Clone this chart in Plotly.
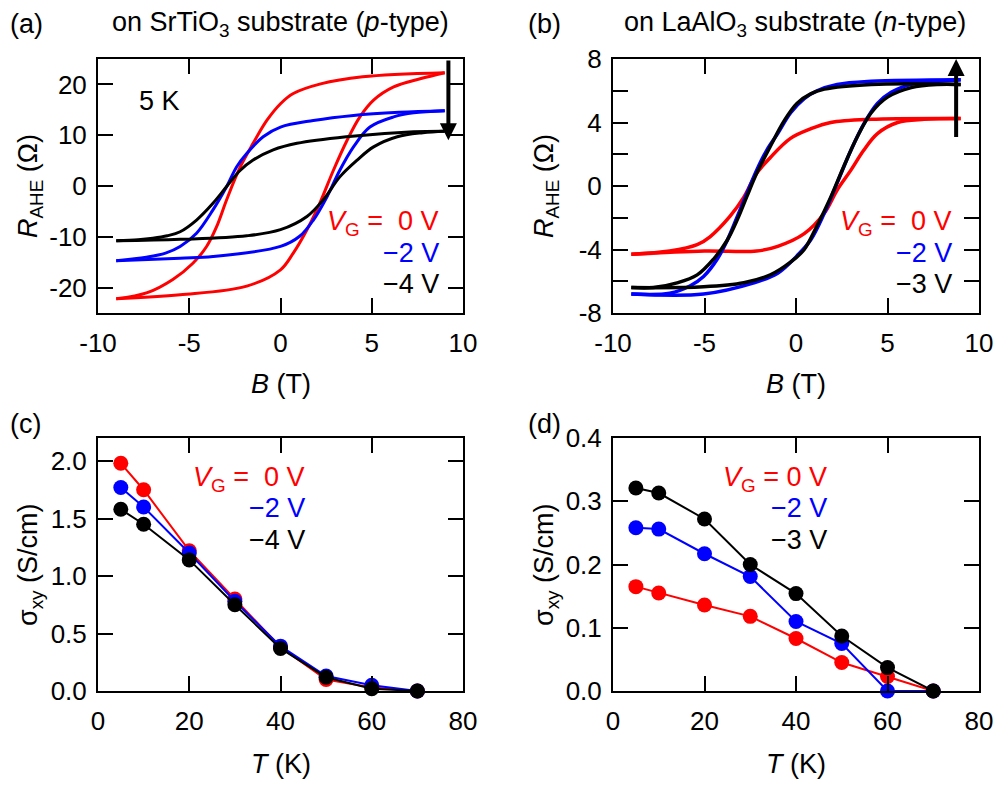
import plotly.graph_objects as go

W, H = 998, 788

# ---------------- data ----------------
# (a) SrTiO3, 5 K : R_AHE (Ohm) vs B (T)
a_red_up_B = [-9, -7.3, -5.9, -4.8, -4.05, -3.5, -2.95, -2.2, -1.5, -0.75, 0.0, 0.7, 2.2, 4.5, 9]
a_red_up_R = [-22.2, -21.0, -18.4, -15.2, -11.9, -8.0, -2.7, 3.8, 8.4, 12.9, 16.2, 18.2, 20.1, 21.5, 22.3]
a_red_dn_B = [-9, -5.5, -1.85, 0.0, 0.7, 1.45, 2.15, 2.9, 3.65, 4.35, 5.1, 6.2, 7.65, 9]
a_red_dn_R = [-22.2, -21.4, -19.7, -16.5, -13.2, -8.6, -3.4, 3.1, 9.0, 13.6, 16.9, 19.5, 21.1, 22.3]

a_blue_up_B = [-9, -7.35, -6.3, -5.5, -4.6, -3.7, -2.95, -2.4, -1.85, -0.95, 0.0, 1.8, 4.0, 6.5, 9]
a_blue_up_R = [-14.7, -14.0, -13.2, -11.9, -9.3, -4.7, -0.1, 3.8, 6.4, 9.7, 11.6, 12.9, 13.9, 14.5, 14.8]
a_blue_dn_B = [-9, -5.5, -3.7, 0.0, 1.05, 1.8, 2.55, 3.25, 4.0, 4.9, 6.2, 7.3, 9]
a_blue_dn_R = [-14.7, -14.2, -13.9, -11.9, -9.9, -6.7, -2.1, 3.1, 7.7, 11.6, 13.6, 14.4, 14.8]

a_blk_up_B = [-9, -7.8, -7.0, -6.2, -5.5, -4.6, -3.7, -2.95, -2.2, -1.5, -0.4, 0.9, 3.6, 7.3, 9]
a_blk_up_R = [-10.8, -10.6, -10.3, -9.8, -9.0, -6.7, -3.4, -0.1, 3.1, 5.1, 7.1, 8.4, 9.7, 10.7, 10.8]
a_blk_dn_B = [-9, -5.5, -1.85, 0.0, 1.45, 2.35, 3.25, 4.2, 5.1, 6.4, 7.8, 9]
a_blk_dn_R = [-10.8, -10.5, -9.8, -8.6, -6.0, -2.7, 1.8, 5.1, 7.7, 9.7, 10.5, 10.8]

# (b) LaAlO3 : R_AHE (Ohm) vs B (T)
b_red_up_B = [-9.0, -6.9, -5.4, -4.7, -3.6, -2.85, -2.15, -1.4, -0.3, 0.8, 1.9, 4.1, 9.0]
b_red_up_R = [-4.3, -4.1, -3.7, -3.2, -1.9, -0.7, 0.8, 1.8, 3.0, 3.6, 4.0, 4.2, 4.25]
b_red_dn_B = [-9.0, -5.0, -2.15, -1.0, 0.45, 1.55, 2.25, 3.0, 3.7, 4.45, 5.55, 7.0, 9.0]
b_red_dn_R = [-4.3, -4.1, -4.1, -3.8, -3.0, -1.7, -0.25, 1.0, 2.25, 3.3, 4.0, 4.2, 4.25]

b_blue_up_B = [-9.0, -6.9, -5.8, -5.05, -4.3, -3.75, -3.2, -2.7, -2.15, -1.6, -1.0, -0.3, 0.45, 1.15, 2.25, 4.1, 9.0]
b_blue_up_R = [-6.8, -6.75, -6.3, -5.7, -4.6, -3.4, -1.9, -0.5, 1.0, 2.25, 3.3, 4.6, 5.5, 6.0, 6.4, 6.6, 6.7]
b_blue_dn_B = [-9.0, -5.05, -2.3, -1.0, 0.05, 0.8, 1.55, 2.25, 3.0, 3.7, 4.45, 5.2, 6.3, 7.75, 9.0]
b_blue_dn_R = [-6.8, -6.8, -6.1, -5.5, -4.4, -3.4, -1.7, 0.2, 2.25, 3.9, 5.2, 5.9, 6.4, 6.6, 6.7]

b_blk_up_B = [-9.0, -7.8, -6.5, -5.4, -4.5, -3.75, -3.2, -2.7, -2.15, -1.4, -0.65, 0.05, 0.8, 1.55, 4.1, 9.0]
b_blk_up_R = [-6.4, -6.4, -6.1, -5.6, -4.6, -3.4, -2.1, -0.7, 0.8, 2.5, 4.1, 5.2, 5.8, 6.1, 6.4, 6.4]
b_blk_dn_B = [-9.0, -5.05, -2.85, -1.4, -0.3, 0.45, 1.15, 1.9, 2.6, 3.35, 4.1, 5.0, 6.3, 7.75, 9.0]
b_blk_dn_R = [-6.4, -6.35, -6.1, -5.6, -4.8, -4.0, -2.5, -0.7, 1.2, 3.1, 4.6, 5.6, 6.2, 6.4, 6.4]

# (c), (d) : sigma_xy (S/cm) vs T (K)
T_vals = [5, 10, 20, 30, 40, 50, 60, 70]
c_red = [1.98, 1.75, 1.22, 0.80, 0.38, 0.10, 0.03, 0.0]
c_blue = [1.77, 1.60, 1.20, 0.78, 0.39, 0.13, 0.05, 0.0]
c_blk = [1.58, 1.45, 1.14, 0.75, 0.37, 0.12, 0.02, 0.0]

d_red = [0.165, 0.155, 0.136, 0.118, 0.083, 0.045, 0.023, 0.0]
d_blue = [0.258, 0.256, 0.217, 0.181, 0.110, 0.075, 0.0, 0.0]
d_blk = [0.321, 0.313, 0.272, 0.200, 0.154, 0.087, 0.037, 0.0]

# tick labels
a_x_ticks = [-10, -5, 0, 5, 10]
a_x_text = ["-10", "-5", "0", "5", "10"]
a_y_ticks = [-20, -10, 0, 10, 20]
a_y_text = ["-20", "-10", "0", "10", "20"]
b_y_ticks = [-8, -6, -4, -2, 0, 2, 4, 6, 8]
b_y_text = ["-8", "", "-4", "", "0", "", "4", "", "8"]
c_x_ticks = [0, 20, 40, 60, 80]
c_y_ticks = [0.0, 0.5, 1.0, 1.5, 2.0]
d_y_ticks = [0.0, 0.1, 0.2, 0.3, 0.4]

RED, BLUE, BLACK = "#ff0000", "#0000ff", "#000000"
FONT = "Liberation Sans, Arial, sans-serif"
FS_TICK = 26
FS = 27


def px(x):
    return x / W


def py(y):
    return 1 - y / H


fig = go.Figure()

loops_a = [
    (a_red_up_B, a_red_up_R, RED), (a_red_dn_B, a_red_dn_R, RED),
    (a_blue_up_B, a_blue_up_R, BLUE), (a_blue_dn_B, a_blue_dn_R, BLUE),
    (a_blk_up_B, a_blk_up_R, BLACK), (a_blk_dn_B, a_blk_dn_R, BLACK),
]
for xs, ys, col in loops_a:
    fig.add_trace(go.Scatter(x=xs, y=ys, mode="lines", line=dict(color=col, width=3, shape="spline", smoothing=1.0),
                             xaxis="x", yaxis="y", showlegend=False))

loops_b = [
    (b_red_up_B, b_red_up_R, RED), (b_red_dn_B, b_red_dn_R, RED),
    (b_blue_up_B, b_blue_up_R, BLUE), (b_blue_dn_B, b_blue_dn_R, BLUE),
    (b_blk_up_B, b_blk_up_R, BLACK), (b_blk_dn_B, b_blk_dn_R, BLACK),
]
for xs, ys, col in loops_b:
    fig.add_trace(go.Scatter(x=xs, y=ys, mode="lines", line=dict(color=col, width=3.5, shape="spline", smoothing=1.0),
                             xaxis="x2", yaxis="y2", showlegend=False))

for ys, col in [(c_red, RED), (c_blue, BLUE), (c_blk, BLACK)]:
    fig.add_trace(go.Scatter(x=T_vals, y=ys, mode="lines+markers", line=dict(color=col, width=2),
                             marker=dict(color=col, size=15), xaxis="x3", yaxis="y3", showlegend=False,
                             cliponaxis=False))
for ys, col in [(d_red, RED), (d_blue, BLUE), (d_blk, BLACK)]:
    fig.add_trace(go.Scatter(x=T_vals, y=ys, mode="lines+markers", line=dict(color=col, width=2),
                             marker=dict(color=col, size=15), xaxis="x4", yaxis="y4", showlegend=False,
                             cliponaxis=False))

ax_common = dict(showline=True, linecolor="black", linewidth=2, mirror="ticks", ticks="inside",
                 ticklen=15, tickwidth=2, tickcolor="black", showgrid=False, zeroline=False,
                 automargin=False, tickfont=dict(family=FONT, size=FS_TICK, color="black"))
x_common = dict(ticklabelstandoff=6, **ax_common)
y_common = dict(ticklabelstandoff=4, **ax_common)

xd_left = [px(98), px(463)]
xd_right = [px(613), px(979)]
yd_top = [py(313), py(59)]
yd_bot = [py(691), py(438)]

fig.update_layout(
    template="none",
    width=W, height=H, margin=dict(l=0, r=0, t=0, b=0, autoexpand=False),
    paper_bgcolor="white", plot_bgcolor="white",
    xaxis=dict(domain=xd_left, range=[-10, 10], tickvals=a_x_ticks, ticktext=a_x_text, anchor="y", **x_common),
    yaxis=dict(domain=yd_top, range=[-25, 25], tickvals=a_y_ticks, ticktext=a_y_text, anchor="x", **y_common),
    xaxis2=dict(domain=xd_right, range=[-10, 10], tickvals=a_x_ticks, ticktext=a_x_text, anchor="y2", **x_common),
    yaxis2=dict(domain=yd_top, range=[-8, 8], tickvals=b_y_ticks, ticktext=b_y_text, anchor="x2", **y_common),
    xaxis3=dict(domain=xd_left, range=[0, 80], tickvals=c_x_ticks, anchor="y3", **x_common),
    yaxis3=dict(domain=yd_bot, range=[0, 2.2], tickvals=c_y_ticks, tickformat=".1f", anchor="x3", **y_common),
    xaxis4=dict(domain=xd_right, range=[0, 80], tickvals=c_x_ticks, anchor="y4", **x_common),
    yaxis4=dict(domain=yd_bot, range=[0, 0.4], tickvals=d_y_ticks, tickformat=".1f", anchor="x4", **y_common),
    font=dict(family=FONT, size=FS, color="black"),
)

ann = []


def txt(x, y, s, color="black", xanchor="center", size=FS, angle=0):
    ann.append(dict(x=px(x), y=py(y), xref="paper", yref="paper", text=s, showarrow=False,
                    xanchor=xanchor, yanchor="middle", textangle=angle,
                    font=dict(family=FONT, size=size, color=color)))


# panel labels and titles
txt(8, 24, "(a)", xanchor="left")
txt(526, 24, "(b)", xanchor="left")
txt(8, 424, "(c)", xanchor="left")
txt(526, 424, "(d)", xanchor="left")
txt(280, 24, "on SrTiO<sub>3</sub> substrate (<i>p</i>-type)")
txt(795, 24, "on LaAlO<sub>3</sub> substrate (<i>n</i>-type)")

# axis titles
txt(281, 384, "<i>B</i> (T)")
txt(796, 384, "<i>B</i> (T)")
txt(281, 764, "<i>T</i> (K)")
txt(796, 764, "<i>T</i> (K)")
txt(30, 186, "<i>R</i><sub>AHE</sub> (Ω)", angle=-90)
txt(546, 186, "<i>R</i><sub>AHE</sub> (Ω)", angle=-90)
txt(30, 565, "σ<sub>xy</sub> (S/cm)", angle=-90)
txt(546, 565, "σ<sub>xy</sub> (S/cm)", angle=-90)

# in-plot labels
txt(137, 101, "5 K", xanchor="left")
txt(441, 223, "<i>V</i><sub>G</sub> =\u00a0 0 V", color=RED, xanchor="right")
txt(441, 253, "−2 V", color=BLUE, xanchor="right")
txt(441, 284, "−4 V", color=BLACK, xanchor="right")
txt(954, 223, "<i>V</i><sub>G</sub> =\u00a0 0 V", color=RED, xanchor="right")
txt(954, 253, "−2 V", color=BLUE, xanchor="right")
txt(954, 284, "−3 V", color=BLACK, xanchor="right")
txt(307, 479, "<i>V</i><sub>G</sub> =\u00a0 0 V", color=RED, xanchor="right")
txt(307, 508, "−2 V", color=BLUE, xanchor="right")
txt(307, 540, "−4 V", color=BLACK, xanchor="right")
txt(829, 479, "<i>V</i><sub>G</sub> = 0 V", color=RED, xanchor="right")
txt(829, 508, "−2 V", color=BLUE, xanchor="right")
txt(829, 540, "−3 V", color=BLACK, xanchor="right")

# arrows
ann.append(dict(x=9.2, y=9.0, ax=9.2, ay=25, xref="x", yref="y", axref="x", ayref="y",
                showarrow=True, arrowhead=2, arrowsize=0.85, arrowwidth=4, arrowcolor="black", text=""))
ann.append(dict(x=8.75, y=8.0, ax=8.75, ay=3.0, xref="x2", yref="y2", axref="x2", ayref="y2",
                showarrow=True, arrowhead=2, arrowsize=0.85, arrowwidth=4, arrowcolor="black", text=""))

fig.update_layout(annotations=ann)
fig.write_html("out.html")
